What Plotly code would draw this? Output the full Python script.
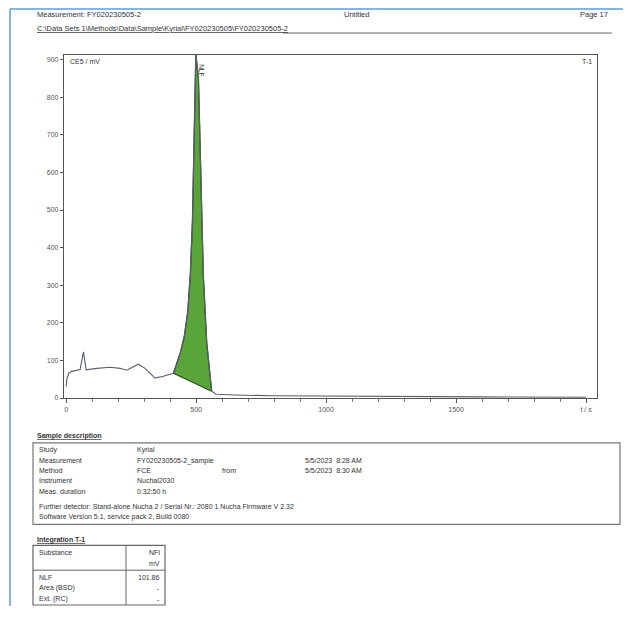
import plotly.graph_objects as go

# ---------------- data ----------------
time_s = [0, 3, 10, 22, 54, 67, 77, 118, 169, 208, 233, 259, 278, 304, 342, 374,
          413, 425, 440, 455, 468, 478, 486, 492, 499, 509, 518, 528, 541, 560,
          577, 650, 800, 1000, 1300, 1600, 2000]
signal_mv = [30, 50, 66, 71, 76, 123, 75, 79, 82, 79, 74, 84, 90, 79, 53, 58,
             66, 90, 122, 165, 230, 330, 470, 675, 915, 852, 587, 323, 146, 18,
             10, 8, 6, 5, 4, 3, 2]
peak_start_s = 413
peak_end_s = 560
peak_name = "NLF"
peak_apex_s = 499

x_ticks = [0, 500, 1000, 1500, 2000]
x_ticklabels = ["0", "500", "1000", "1500", "t / s"]
y_ticks = [0, 100, 200, 300, 400, 500, 600, 700, 800, 900]

sample_rows = [
    ("Study", "Kyrial", "", ""),
    ("Measurement", "FY020230505-2_sample", "", "5/5/2023  8:28 AM"),
    ("Method", "FCE", "from", "5/5/2023  8:30 AM"),
    ("Instrument", "Nuchal2030", "", ""),
    ("Meas. duration", "0:32:50 h", "", ""),
]
sample_long_rows = [
    "Further detector: Stand-alone Nucha 2 / Serial Nr.: 2080 1 Nucha Firmware V 2.32",
    "Software Version 5.1, service pack 2, Build 0080",
]
integ_header = ("Substance", "NFI", "mV")
integ_rows = [("NLF", "101.86"), ("Area (BSD)", "-"), ("Ext. (RC)", "-")]

# ---------------- helpers ----------------
# the page body has an 8 px margin, so the figure is placed at (8, 8)
OFF = 8
W, H = 631 - 2 * OFF, 617 - 2 * OFF
def px(x):
    return (x - OFF) / W
def py(y):
    return 1 - (y - OFF) / H

FONT = "Liberation Sans"
TXT = "#333333"

fig = go.Figure()

# peak area polygon: curve between base points, closed by the integration baseline
i0 = time_s.index(peak_start_s)
i1 = time_s.index(peak_end_s)
poly_x = time_s[i0:i1 + 1] + [time_s[i0]]
poly_y = signal_mv[i0:i1 + 1] + [signal_mv[i0]]
fig.add_trace(go.Scatter(x=poly_x, y=poly_y, mode="lines", fill="toself",
                         fillcolor="#5aa53a", line=dict(color="#2f4a22", width=1.3),
                         hoverinfo="skip", showlegend=False))
# chromatogram trace
fig.add_trace(go.Scatter(x=time_s, y=signal_mv, mode="lines",
                         line=dict(color="#5a5f6e", width=1.1), showlegend=False))

fig.update_layout(
    width=W, height=H, margin=dict(l=0, r=0, t=0, b=0),
    paper_bgcolor="white", plot_bgcolor="white", showlegend=False,
    font=dict(family=FONT, size=7, color=TXT),
    xaxis=dict(domain=[px(64), px(597)], range=[-8, 2042], tickvals=x_ticks,
               ticktext=x_ticklabels, ticks="outside", ticklen=4, tickcolor="#555",
               minor=dict(dtick=100, ticks="outside", ticklen=3, tickcolor="#777"),
               showgrid=False, zeroline=False, showline=True, linecolor="#555",
               mirror=True, linewidth=1.2, tickfont=dict(size=7, color="#555")),
    yaxis=dict(domain=[py(400), py(55)], range=[0, 913], tickvals=y_ticks,
               ticks="outside", ticklen=3, tickcolor="#555", showgrid=False,
               zeroline=False, showline=True, linecolor="#555", mirror=True,
               linewidth=1.2, tickfont=dict(size=7, color="#555")),
)

ann = []
def text(x, y, s, size=7, anchor="left", bold=False, **kw):
    if bold:
        s = "<b>" + s + "</b>"
    ann.append(dict(x=px(x), y=py(y), xref="paper", yref="paper", text=s,
                    showarrow=False, xanchor=anchor, yanchor="middle",
                    font=dict(size=size, color=TXT, family=FONT), **kw))

# header
text(35, 15, "Measurement: FY020230505-2", size=7.5)
text(342, 15, "Untitled", size=7.5)
text(610, 15, "Page 17", size=7.5, anchor="right")
text(35, 29, "<u>C:\\Data Sets 1\\Methods\\Data\\Sample\\Kyrial\\FY020230505\\FY020230505-2</u>",
     size=7.5)

# chart inner labels
text(68, 62, "CE5 / mV", size=7)
text(594, 62, "T-1", size=7, anchor="right")
ann.append(dict(x=peak_apex_s + 24, y=872, xref="x", yref="y", text=peak_name,
                showarrow=False, textangle=90, font=dict(size=6.5, color=TXT, family=FONT)))

# sample description
text(35, 438, "<u>Sample description</u>", bold=True, size=7)
row_y = [452, 463, 473, 483, 494]
for (lab, val, mid, date), yy in zip(sample_rows, row_y):
    text(37, yy, lab)
    text(135, yy, val)
    if mid:
        text(220, yy, mid)
    if date:
        text(303, yy, date)
text(37, 509, sample_long_rows[0])
text(37, 520, sample_long_rows[1])

# integration table
text(35, 543, "<u>Integration T-1</u>", bold=True)
text(162, 555, integ_header[1], anchor="right")
text(37, 555, integ_header[0])
text(162, 566, integ_header[2], anchor="right")
for (lab, val), yy in zip(integ_rows, [580, 591, 602]):
    text(37, yy, lab)
    text(162, yy, val, anchor="right")

shapes = []
def line(x0, y0, x1, y1, color="#666", width=1):
    shapes.append(dict(type="line", xref="paper", yref="paper", x0=px(x0), y0=py(y0),
                       x1=px(x1), y1=py(y1), line=dict(color=color, width=width)))
def rect(x0, y0, x1, y1, color="#666", width=1):
    shapes.append(dict(type="rect", xref="paper", yref="paper", x0=px(x0), y0=py(y0),
                       x1=px(x1), y1=py(y1), line=dict(color=color, width=width)))

# scan border (blue)
line(10, 9, 623, 9, color="#5b9bd5", width=1.5)
line(10, 9, 10, 609, color="#5b9bd5", width=1.5)
# header rule
line(283, 33, 612, 33, color="#999", width=1.5)
# sample description box
rect(33, 445, 620, 527, color="#777", width=1.2)
# integration box
rect(33, 548, 165, 608, color="#666", width=1.2)
line(126, 548, 126, 608, color="#666")
line(33, 573, 165, 573, color="#666")

fig.update_layout(annotations=ann, shapes=shapes)
fig.write_html("out.html")
